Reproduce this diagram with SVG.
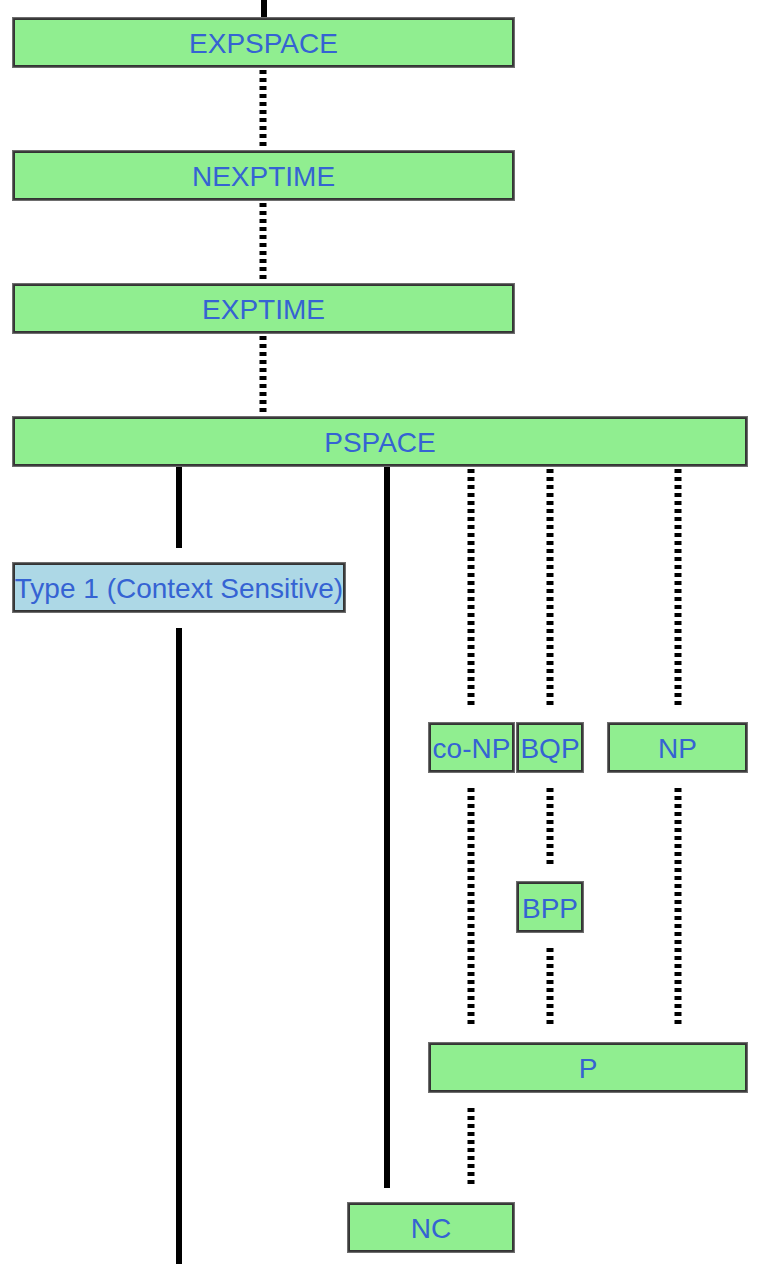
<svg xmlns="http://www.w3.org/2000/svg" width="764" height="1264" viewBox="0 0 764 1264">
<style>
.o{fill:none;stroke:#333;stroke-width:2}
.i{fill:none;stroke:#6e6e6e;stroke-width:1.2}
.g{fill:#90ee90}
.b{fill:#add8e6}
.t{font-family:"Liberation Sans",Arial,sans-serif;font-size:28px;fill:#3563d3;text-anchor:middle}
.s{stroke:#000;stroke-width:6;fill:none}
.d{stroke:#000;stroke-width:7;fill:none;stroke-dasharray:4 4}
</style>
<g id="connectors">
<line class="s" x1="264" y1="0" x2="264" y2="17"/>
<line class="d" x1="263" y1="70" x2="263" y2="148"/>
<line class="d" x1="263" y1="203" x2="263" y2="281"/>
<line class="d" x1="263" y1="336" x2="263" y2="414"/>
<line class="s" x1="179" y1="467" x2="179" y2="548"/>
<line class="s" x1="179" y1="628" x2="179" y2="1264"/>
<line class="s" x1="387" y1="467" x2="387" y2="1188"/>
<line class="d" x1="471" y1="469" x2="471" y2="705"/>
<line class="d" x1="550" y1="469" x2="550" y2="705"/>
<line class="d" x1="678" y1="469" x2="678" y2="705"/>
<line class="d" x1="471" y1="788" x2="471" y2="1025"/>
<line class="d" x1="550" y1="788" x2="550" y2="865"/>
<line class="d" x1="678" y1="788" x2="678" y2="1025"/>
<line class="d" x1="550" y1="948" x2="550" y2="1025"/>
<line class="d" x1="471" y1="1108" x2="471" y2="1185"/>
</g>
<g id="expspace"><rect class="g" x="12" y="17" width="503" height="51"/><rect class="o" x="14" y="19" width="499" height="47"/><rect class="i" x="12.6" y="17.6" width="501.8" height="49.8"/><text class="t" x="263.5" y="53">EXPSPACE</text></g>
<g id="nexptime"><rect class="g" x="12" y="150" width="503" height="51"/><rect class="o" x="14" y="152" width="499" height="47"/><rect class="i" x="12.6" y="150.6" width="501.8" height="49.8"/><text class="t" x="263.5" y="186">NEXPTIME</text></g>
<g id="exptime"><rect class="g" x="12" y="283" width="503" height="51"/><rect class="o" x="14" y="285" width="499" height="47"/><rect class="i" x="12.6" y="283.6" width="501.8" height="49.8"/><text class="t" x="263.5" y="319">EXPTIME</text></g>
<g id="pspace"><rect class="g" x="12" y="416" width="736" height="51"/><rect class="o" x="14" y="418" width="732" height="47"/><rect class="i" x="12.6" y="416.6" width="734.8" height="49.8"/><text class="t" x="380" y="452">PSPACE</text></g>
<g id="type1"><rect class="b" x="12" y="562" width="334" height="51"/><rect class="o" x="14" y="564" width="330" height="47"/><rect class="i" x="12.6" y="562.6" width="332.8" height="49.8"/><text class="t" x="179" y="598">Type 1 (Context Sensitive)</text></g>
<g id="conp"><rect class="g" x="428" y="722" width="87" height="51"/><rect class="o" x="430" y="724" width="83" height="47"/><rect class="i" x="428.6" y="722.6" width="85.8" height="49.8"/><text class="t" x="471.5" y="758">co-NP</text></g>
<g id="bqp"><rect class="g" x="516" y="722" width="68" height="51"/><rect class="o" x="518" y="724" width="64" height="47"/><rect class="i" x="516.6" y="722.6" width="66.8" height="49.8"/><text class="t" x="550" y="758">BQP</text></g>
<g id="np"><rect class="g" x="607" y="722" width="141" height="51"/><rect class="o" x="609" y="724" width="137" height="47"/><rect class="i" x="607.6" y="722.6" width="139.8" height="49.8"/><text class="t" x="677.5" y="758">NP</text></g>
<g id="bpp"><rect class="g" x="516" y="881" width="68" height="52"/><rect class="o" x="518" y="883" width="64" height="48"/><rect class="i" x="516.6" y="881.6" width="66.8" height="50.8"/><text class="t" x="550" y="918">BPP</text></g>
<g id="p"><rect class="g" x="428" y="1042" width="320" height="51"/><rect class="o" x="430" y="1044" width="316" height="47"/><rect class="i" x="428.6" y="1042.6" width="318.8" height="49.8"/><text class="t" x="588" y="1078">P</text></g>
<g id="nc"><rect class="g" x="347" y="1202" width="168" height="51"/><rect class="o" x="349" y="1204" width="164" height="47"/><rect class="i" x="347.6" y="1202.6" width="166.8" height="49.8"/><text class="t" x="431" y="1238">NC</text></g>
</svg>
